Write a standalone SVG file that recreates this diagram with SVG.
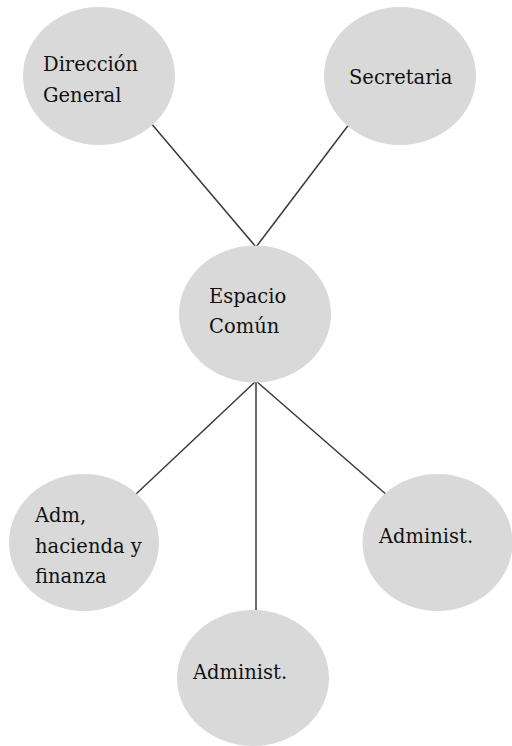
<svg xmlns="http://www.w3.org/2000/svg" width="512" height="746" viewBox="0 0 512 746">
<style>
.n{fill:#d9d9d9;}
.c{stroke:#3a3a3a;stroke-width:1.5;fill:none;}
</style>
<rect width="512" height="746" fill="#fff"/>
<g id="connectors">
<line class="c" x1="150" y1="122" x2="256" y2="247"/>
<line class="c" x1="350" y1="123" x2="256" y2="247"/>
<line class="c" x1="256" y1="381" x2="135" y2="495"/>
<line class="c" x1="256" y1="381" x2="256" y2="610"/>
<line class="c" x1="256" y1="381" x2="388" y2="496"/>
</g>
<g font-family="DejaVu Serif, serif" font-size="19.5" fill="#111">
<g id="direccion">
<ellipse class="n" cx="99" cy="76" rx="76" ry="69"/>
<text x="43" y="71">Dirección</text>
<text x="43" y="102">General</text>
</g>
<g id="secretaria">
<ellipse class="n" cx="400" cy="76" rx="76" ry="69"/>
<text x="349" y="84">Secretaria</text>
</g>
<g id="espacio">
<ellipse class="n" cx="255" cy="314" rx="76" ry="68.5"/>
<text x="209" y="303">Espacio</text>
<text x="209" y="333">Común</text>
</g>
<g id="adm">
<ellipse class="n" cx="84" cy="542.5" rx="75" ry="68.5"/>
<text x="35" y="522">Adm,</text>
<text x="35" y="553">hacienda y</text>
<text x="35" y="583">finanza</text>
</g>
<g id="administ-right">
<ellipse class="n" cx="437.5" cy="542.5" rx="75" ry="68.5"/>
<text x="379" y="543">Administ.</text>
</g>
<g id="administ-bottom">
<ellipse class="n" cx="253" cy="678" rx="76" ry="68"/>
<text x="193" y="679">Administ.</text>
</g>
</g>
</svg>
